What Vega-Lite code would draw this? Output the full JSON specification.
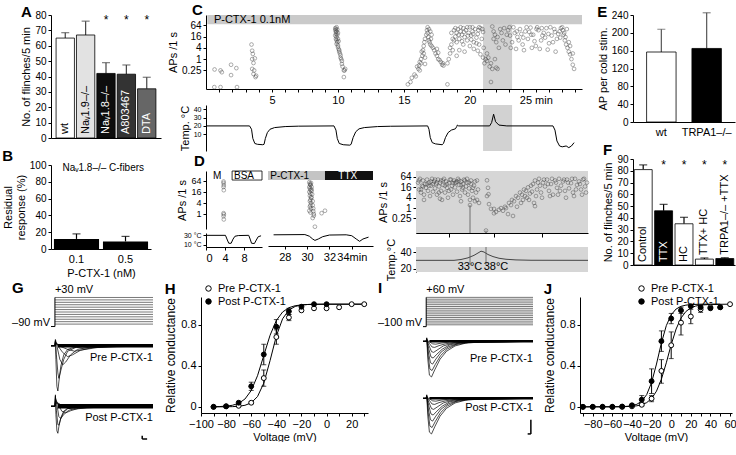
{
 "$schema": "https://vega.github.io/schema/vega-lite/v6.json",
 "padding": {"left": 2, "top": 2, "right": 2, "bottom": 0},
 "background": "white",
 "config": {
  "font": "Liberation Sans",
  "view": {"stroke": null},
  "axis": {"grid": false, "domainColor": "#000", "tickColor": "#000", "labelColor": "#000", "titleColor": "#000", "labelFontSize": 10, "titleFontSize": 11, "titleFontWeight": "normal", "tickSize": 3, "labelPadding": 2, "titlePadding": 3, "labelOverlap": false},
  "title": {"fontSize": 15, "fontWeight": "bold", "anchor": "start", "frame": "bounds", "color": "#000"}
 },
 "resolve": {"scale": {"fill": "independent"}},
 "datasets": {
  "aBars": [
   {"g": "wt", "v": 65, "hi": 68.5, "lab": "wt", "sig": false},
   {"g": "Nav19", "v": 67, "hi": 76, "lab": "Naᵥ1.9–/–", "sig": false},
   {"g": "Nav18", "v": 42, "hi": 49, "lab": "Naᵥ1.8–/–", "sig": true},
   {"g": "A803467", "v": 41.5, "hi": 47.5, "lab": "A803467", "sig": true},
   {"g": "DTA", "v": 32, "hi": 39.5, "lab": "DTA", "sig": true}
  ],
  "bBars": [{"c": "0.1", "v": 12, "hi": 18}, {"c": "0.5", "v": 9, "hi": 15}],
  "eBars": [{"g": "wt", "v": 157, "hi": 208}, {"g": "TRPA1–/–", "v": 165, "hi": 245}],
  "fBars": [
   {"g": "Control", "v": 81, "hi": 85, "sig": false},
   {"g": "TTX", "v": 46, "hi": 51.5, "sig": true},
   {"g": "HC", "v": 35, "hi": 40.5, "sig": true},
   {"g": "TTX+ HC", "v": 5, "hi": 6, "sig": true},
   {"g": "TRPA1–/– +TTX", "v": 5.5, "hi": 6.2, "sig": true}
  ],
  "cPts": [
   {"t":0.63,"a":0.032},{"t":0.65,"a":0.28},{"t":1.1,"a":0.032},{"t":1.1,"a":0.25},{"t":1.2,"a":0.2},{"t":1.9,"a":0.5},{"t":1.9,"a":0.14},{"t":2.3,"a":0.33},{"t":2.35,"a":0.032},{"t":3.45,"a":6},{"t":3.5,"a":2.8},{"t":3.55,"a":1.9},{"t":3.5,"a":1.0},{"t":3.6,"a":0.62},{"t":3.7,"a":1.1},{"t":3.65,"a":0.25},{"t":3.6,"a":0.16},{"t":3.8,"a":0.13},{"t":3.75,"a":0.11},{"t":3.5,"a":0.3},
   {"t":9.8,"a":45},{"t":9.8,"a":35},{"t":9.85,"a":28},{"t":9.85,"a":22},{"t":9.8,"a":18},{"t":9.9,"a":15},{"t":9.85,"a":12},{"t":9.9,"a":10},{"t":9.95,"a":8},{"t":9.9,"a":6.5},{"t":10.0,"a":5.5},{"t":10.0,"a":4.5},{"t":10.05,"a":3.5},{"t":10.1,"a":3},{"t":10.1,"a":2.5},{"t":10.15,"a":2},{"t":10.2,"a":1.6},{"t":10.2,"a":1.2},{"t":10.25,"a":1.0},{"t":10.3,"a":0.8},{"t":10.3,"a":0.55},{"t":10.35,"a":0.4},{"t":10.5,"a":0.25},{"t":10.45,"a":0.25},{"t":10.55,"a":0.3},{"t":10.45,"a":0.11},{"t":9.9,"a":30},{"t":9.95,"a":20},{"t":10.0,"a":12},{"t":10.05,"a":9},{"t":10.0,"a":25},{"t":9.85,"a":40},{"t":9.9,"a":50},{"t":9.95,"a":38},
   {"t":15.3,"a":0.045},{"t":15.5,"a":0.06},{"t":15.6,"a":0.1},{"t":15.8,"a":0.15},{"t":15.9,"a":0.12},{"t":16.0,"a":0.4},{"t":16.1,"a":0.3},{"t":16.15,"a":0.45},{"t":16.2,"a":0.25},{"t":16.3,"a":0.6},{"t":16.3,"a":1.0},{"t":16.4,"a":1.5},{"t":16.35,"a":2.5},{"t":16.45,"a":3},{"t":16.5,"a":2},{"t":16.5,"a":5},{"t":16.55,"a":8},{"t":16.6,"a":1.2},{"t":16.6,"a":12},{"t":16.7,"a":20},{"t":16.75,"a":35},{"t":16.8,"a":50},{"t":16.8,"a":25},{"t":16.85,"a":15},{"t":16.9,"a":10},{"t":16.95,"a":8},{"t":17.0,"a":6},{"t":17.05,"a":12},{"t":17.1,"a":5},{"t":17.2,"a":4},{"t":17.3,"a":3},{"t":17.4,"a":2},{"t":17.5,"a":1.5},{"t":17.6,"a":1.0},{"t":17.7,"a":0.9},{"t":17.8,"a":0.7},{"t":17.9,"a":0.5},{"t":17.95,"a":0.6},{"t":17.5,"a":3.5},{"t":17.6,"a":2.2},{"t":18.0,"a":0.45},{"t":18.3,"a":0.045},{"t":16.6,"a":0.55},{"t":16.2,"a":0.7},{"t":16.9,"a":40},{"t":17.0,"a":30},{"t":17.1,"a":20},
   {"t":18.3,"a":0.6},{"t":18.4,"a":1.0},{"t":18.5,"a":2},{"t":18.5,"a":4},{"t":18.6,"a":6},{"t":18.7,"a":3},{"t":18.8,"a":10},{"t":18.9,"a":16},{"t":19.0,"a":25},{"t":19.1,"a":40},{"t":19.0,"a":8},{"t":19.2,"a":12},{"t":19.3,"a":30},{"t":19.4,"a":20},{"t":19.5,"a":45},{"t":19.5,"a":6},{"t":19.6,"a":15},{"t":19.7,"a":35},{"t":19.8,"a":10},{"t":19.9,"a":25},{"t":20.0,"a":50},{"t":20.0,"a":5},{"t":20.1,"a":18},{"t":20.2,"a":30},{"t":20.3,"a":8},{"t":20.4,"a":40},{"t":20.5,"a":14},{"t":20.6,"a":22},{"t":20.7,"a":6},{"t":20.8,"a":45},{"t":20.9,"a":12},{"t":21.0,"a":28},{"t":21.05,"a":4},{"t":19.2,"a":3},{"t":19.6,"a":2.5},{"t":20.3,"a":3.5},{"t":20.6,"a":2.8},{"t":19.0,"a":1.5},{"t":20.8,"a":1.8},{"t":21.0,"a":1.2},{"t":18.7,"a":12},{"t":19.4,"a":9},{"t":20.1,"a":11},{"t":20.5,"a":7},{"t":19.8,"a":50},{"t":20.2,"a":50},{"t":20.7,"a":50},{"t":19.3,"a":50},{"t":18.9,"a":45},{"t":19.15,"a":20},{"t":19.55,"a":28},{"t":19.85,"a":18},{"t":20.25,"a":22},{"t":20.65,"a":35},{"t":20.95,"a":40},{"t":18.6,"a":25},{"t":18.8,"a":35},
   {"t":21.1,"a":0.6},{"t":21.2,"a":1.0},{"t":21.3,"a":2},{"t":21.3,"a":0.8},{"t":21.4,"a":1.2},{"t":21.5,"a":0.4},{"t":21.6,"a":0.6},{"t":21.7,"a":0.3},{"t":21.6,"a":0.06},{"t":21.7,"a":55},{"t":21.8,"a":30},{"t":21.8,"a":12},{"t":21.9,"a":20},{"t":22.0,"a":8},{"t":22.1,"a":15},{"t":22.2,"a":4},{"t":22.3,"a":40},{"t":22.0,"a":0.35},{"t":22.1,"a":0.3},{"t":21.9,"a":1.0},{"t":22.4,"a":25},{"t":22.5,"a":10},{"t":22.6,"a":45},{"t":22.7,"a":6},{"t":22.8,"a":20},{"t":22.9,"a":35},
   {"t":23.0,"a":50},{"t":23.2,"a":8},{"t":23.4,"a":25},{"t":23.6,"a":15},{"t":23.8,"a":40},{"t":24.0,"a":6},{"t":24.2,"a":30},{"t":24.4,"a":12},{"t":24.6,"a":48},{"t":24.8,"a":20},{"t":25.0,"a":5},{"t":25.2,"a":35},{"t":25.4,"a":10},{"t":25.6,"a":25},{"t":25.8,"a":45},{"t":26.0,"a":7},{"t":26.2,"a":18},{"t":26.4,"a":40},{"t":26.6,"a":12},{"t":26.8,"a":30},{"t":27.0,"a":50},{"t":27.1,"a":20},{"t":27.2,"a":10},{"t":27.3,"a":6},{"t":27.4,"a":4},{"t":27.5,"a":2.5},{"t":27.6,"a":1.8},{"t":27.7,"a":1.0},{"t":27.8,"a":0.5},{"t":27.9,"a":0.3},{"t":23.1,"a":4},{"t":23.5,"a":3.5},{"t":24.1,"a":3},{"t":24.7,"a":4},{"t":25.3,"a":3.5},{"t":25.9,"a":3.2},{"t":26.5,"a":2.5},{"t":23.3,"a":50},{"t":24.3,"a":50},{"t":25.1,"a":50},{"t":26.1,"a":50},{"t":26.9,"a":45},{"t":23.7,"a":10},{"t":24.9,"a":9},{"t":25.7,"a":14},{"t":26.3,"a":8},{"t":27.05,"a":35},{"t":27.15,"a":25},{"t":27.25,"a":15},{"t":27.5,"a":8},{"t":27.6,"a":5},{"t":27.8,"a":2},{"t":23.9,"a":22},{"t":24.5,"a":28},{"t":25.5,"a":18},{"t":26.7,"a":22},{"t":23.05,"a":18},{"t":23.55,"a":30},{"t":24.05,"a":14},{"t":24.65,"a":20},{"t":25.05,"a":40},{"t":25.45,"a":45},{"t":25.95,"a":22},{"t":26.45,"a":28},{"t":26.85,"a":14},{"t":27.35,"a":40}
  ],
  "cTemp": [
   {"t":0,"T":20},{"t":3.3,"T":20},{"t":3.45,"T":16},{"t":3.55,"T":5},{"t":3.7,"T":-1},{"t":3.9,"T":-2},{"t":4.3,"T":-2.5},{"t":4.4,"T":-2},{"t":4.5,"T":5},{"t":4.65,"T":12},{"t":4.85,"T":16},{"t":5.2,"T":18},{"t":6,"T":19.2},{"t":7,"T":19.7},{"t":9.7,"T":20},{"t":9.85,"T":15},{"t":9.95,"T":5},{"t":10.1,"T":-1},{"t":10.4,"T":-2.5},{"t":10.9,"T":-3},{"t":11.0,"T":-2},{"t":11.15,"T":6},{"t":11.35,"T":13},{"t":11.6,"T":16.5},{"t":12,"T":18},{"t":13,"T":19.2},{"t":14,"T":19.6},{"t":16.8,"T":20},{"t":16.9,"T":16},{"t":17.0,"T":6},{"t":17.15,"T":0},{"t":17.4,"T":-1.5},{"t":17.9,"T":-2.5},{"t":18.0,"T":-1},{"t":18.15,"T":6},{"t":18.35,"T":12},{"t":18.6,"T":15},{"t":18.9,"T":16.5},{"t":19.0,"T":19},{"t":19.05,"T":21},{"t":19.15,"T":20},{"t":21.5,"T":20},{"t":21.65,"T":24},{"t":21.8,"T":34},{"t":21.95,"T":25},{"t":22.2,"T":21},{"t":22.8,"T":20},{"t":26.3,"T":20},{"t":26.45,"T":15},{"t":26.6,"T":2},{"t":26.8,"T":-4},{"t":27.0,"T":-5},{"t":27.3,"T":-4},{"t":27.5,"T":-6},{"t":27.7,"T":-4},{"t":27.9,"T":0}
  ],
  "d1Pts": [{"t":3.7,"a":60},{"t":3.7,"a":50},{"t":3.75,"a":38},{"t":3.7,"a":30},{"t":3.75,"a":20},{"t":3.7,"a":1.1},{"t":3.75,"a":0.95},{"t":3.7,"a":0.75},{"t":3.75,"a":0.5}],
  "d2Pts": [{"t":30.2,"a":55},{"t":30.25,"a":45},{"t":30.3,"a":38},{"t":30.2,"a":30},{"t":30.25,"a":25},{"t":30.3,"a":20},{"t":30.2,"a":16},{"t":30.3,"a":13},{"t":30.25,"a":10},{"t":30.35,"a":8},{"t":30.3,"a":6},{"t":30.25,"a":5},{"t":30.35,"a":4},{"t":30.3,"a":3},{"t":30.25,"a":2.5},{"t":30.35,"a":2},{"t":30.2,"a":1.5},{"t":30.3,"a":1.2},{"t":30.4,"a":30},{"t":30.4,"a":18},{"t":30.45,"a":12},{"t":30.4,"a":8},{"t":30.5,"a":5},{"t":30.5,"a":3},{"t":30.55,"a":2},{"t":30.55,"a":1.4},{"t":30.6,"a":1.0},{"t":30.6,"a":0.8},{"t":30.5,"a":0.6},{"t":30.7,"a":0.2},{"t":31.3,"a":1.1},{"t":31.6,"a":1.5},{"t":30.35,"a":50},{"t":30.3,"a":40},{"t":30.4,"a":22}],
  "d1Temp": [{"t":0,"T":30},{"t":4.1,"T":30},{"t":4.5,"T":20},{"t":4.8,"T":13},{"t":5.3,"T":13},{"t":5.7,"T":22},{"t":6.1,"T":28},{"t":6.8,"T":29.5},{"t":9.0,"T":30},{"t":9.3,"T":22},{"t":9.6,"T":13},{"t":10.2,"T":12.5},{"t":10.6,"T":20},{"t":11.0,"T":27},{"t":11.6,"T":29}],
  "d2Temp": [{"t":27,"T":29},{"t":29.8,"T":29.5},{"t":30.2,"T":26},{"t":30.5,"T":20},{"t":30.7,"T":17},{"t":31.0,"T":20},{"t":31.4,"T":25},{"t":32,"T":28.5},{"t":33.5,"T":29},{"t":34.0,"T":27},{"t":34.4,"T":20},{"t":34.7,"T":15},{"t":35.0,"T":20},{"t":35.5,"T":24}],
  "drPts": [
   {"x":2,"a":30},{"x":3,"a":12},{"x":4,"a":50},{"x":5,"a":8},{"x":6,"a":20},{"x":7,"a":40},{"x":8,"a":6},{"x":9,"a":25},{"x":10,"a":15},{"x":11,"a":45},{"x":12,"a":10},{"x":13,"a":30},{"x":14,"a":5},{"x":15,"a":20},{"x":16,"a":50},{"x":17,"a":9},{"x":18,"a":35},{"x":19,"a":14},{"x":20,"a":25},{"x":21,"a":6},{"x":22,"a":45},{"x":23,"a":18},{"x":24,"a":30},{"x":25,"a":10},{"x":26,"a":3},{"x":27,"a":22},{"x":28,"a":50},{"x":29,"a":8},{"x":30,"a":35},{"x":31,"a":15},{"x":32,"a":4},{"x":33,"a":28},{"x":34,"a":45},{"x":35,"a":12},{"x":36,"a":20},{"x":37,"a":6},{"x":38,"a":40},{"x":39,"a":16},{"x":40,"a":30},{"x":41,"a":9},{"x":42,"a":50},{"x":43,"a":22},{"x":44,"a":5},{"x":45,"a":35},{"x":46,"a":12},{"x":47,"a":25},{"x":48,"a":45},{"x":49,"a":8},{"x":50,"a":18},{"x":51,"a":30},{"x":52,"a":6},{"x":53,"a":14},{"x":54,"a":3},{"x":55,"a":40},{"x":56,"a":10},{"x":57,"a":4},{"x":58,"a":20},{"x":59,"a":2.5},{"x":60,"a":8},{"x":61,"a":3},{"x":62,"a":12},{"x":63,"a":2},{"x":24,"a":3.5},{"x":8,"a":3},{"x":45,"a":2.5},
   {"x":3,"a":40},{"x":7,"a":18},{"x":11,"a":25},{"x":15,"a":35},{"x":19,"a":45},{"x":23,"a":8},{"x":27,"a":40},{"x":31,"a":25},{"x":35,"a":45},{"x":39,"a":30},{"x":43,"a":40},{"x":47,"a":15},{"x":51,"a":50},{"x":55,"a":25},{"x":59,"a":35},{"x":5,"a":12},{"x":13,"a":20},{"x":17,"a":25},{"x":21,"a":30},{"x":25,"a":40},{"x":29,"a":20},{"x":33,"a":10},{"x":37,"a":28},{"x":41,"a":35},{"x":45,"a":22},{"x":49,"a":40},{"x":53,"a":30},{"x":57,"a":15},{"x":61,"a":40},
   {"x":71,"a":41},{"x":72,"a":15},{"x":72.5,"a":6.4},{"x":71,"a":5},{"x":73,"a":1.7},{"x":75,"a":0.9},{"x":78,"a":0.9},{"x":80,"a":0.6},{"x":78,"a":0.5},{"x":83,"a":0.8},{"x":85,"a":1.0},{"x":87,"a":0.7},{"x":89,"a":1.2},{"x":90,"a":1.0},{"x":92,"a":0.45},{"x":93,"a":2},{"x":95,"a":1.5},{"x":96,"a":3},{"x":97,"a":0.35},{"x":98,"a":2.5},{"x":100,"a":5},{"x":101,"a":1.2},{"x":102,"a":4},{"x":104,"a":8},{"x":105,"a":2},{"x":106,"a":6},{"x":107,"a":3},{"x":108,"a":12},{"x":109,"a":5},{"x":110,"a":10},{"x":111,"a":4},{"x":112,"a":16},{"x":113,"a":3},{"x":114,"a":7},{"x":115,"a":20},{"x":116,"a":9},{"x":118,"a":2},{"x":120,"a":5},{"x":122,"a":30},{"x":119,"a":1.3},
   {"x":117,"a":25},{"x":119,"a":40},{"x":121,"a":12},{"x":123,"a":50},{"x":125,"a":8},{"x":127,"a":30},{"x":129,"a":18},{"x":131,"a":45},{"x":133,"a":10},{"x":135,"a":25},{"x":137,"a":6},{"x":139,"a":40},{"x":141,"a":15},{"x":143,"a":50},{"x":145,"a":20},{"x":147,"a":35},{"x":149,"a":10},{"x":151,"a":45},{"x":153,"a":14},{"x":155,"a":28},{"x":157,"a":8},{"x":159,"a":50},{"x":161,"a":22},{"x":163,"a":35},{"x":165,"a":12},{"x":167,"a":45},{"x":169,"a":18},{"x":171,"a":30},{"x":124,"a":20},{"x":128,"a":45},{"x":132,"a":25},{"x":136,"a":50},{"x":140,"a":30},{"x":144,"a":10},{"x":148,"a":45},{"x":152,"a":30},{"x":156,"a":50},{"x":160,"a":12},{"x":164,"a":25},{"x":168,"a":50},{"x":170,"a":8},{"x":126,"a":4},{"x":134,"a":5},{"x":142,"a":6},{"x":150,"a":4},{"x":158,"a":5},{"x":166,"a":6}
  ],
  "drTemp": [{"x":0,"T":30},{"x":38,"T":30},{"x":45,"T":31},{"x":52,"T":33},{"x":58,"T":36},{"x":63,"T":39.5},{"x":65,"T":41},{"x":68,"T":40},{"x":72,"T":37},{"x":77,"T":34.5},{"x":83,"T":32.5},{"x":90,"T":31.3},{"x":100,"T":30.5},{"x":115,"T":30.1},{"x":172,"T":30}],
  "drMarks": [{"x":54,"a":1.5,"lab":"33°C","lx":54},{"x":70,"a":0.05,"lab":"38°C","lx":80}],
  "gLv": [{"l":-80},{"l":-70},{"l":-60},{"l":-50},{"l":-40},{"l":-30},{"l":-20},{"l":-10},{"l":0},{"l":10},{"l":20},{"l":30}],
  "iLv": [{"l":-90},{"l":-80},{"l":-70},{"l":-60},{"l":-50},{"l":-40},{"l":-30},{"l":-20},{"l":-10},{"l":0},{"l":10},{"l":20},{"l":30},{"l":40},{"l":50},{"l":60}],
  "gPre": [
   {"k":"p1","t":-4,"i":0},{"k":"p1","t":0,"i":0},{"k":"p1","t":0.5,"i":0.1},{"k":"p1","t":1,"i":-0.3},{"k":"p1","t":2,"i":-0.9},{"k":"p1","t":3,"i":-1.0},{"k":"p1","t":4,"i":-0.8},{"k":"p1","t":6,"i":-0.45},{"k":"p1","t":9,"i":-0.2},{"k":"p1","t":13,"i":-0.08},{"k":"p1","t":22,"i":-0.02},{"k":"p1","t":100,"i":0},
   {"k":"p2","t":-4,"i":0},{"k":"p2","t":0,"i":0},{"k":"p2","t":0.5,"i":0.12},{"k":"p2","t":1.5,"i":-0.2},{"k":"p2","t":3,"i":-0.6},{"k":"p2","t":4,"i":-0.72},{"k":"p2","t":6,"i":-0.55},{"k":"p2","t":9,"i":-0.3},{"k":"p2","t":13,"i":-0.12},{"k":"p2","t":22,"i":-0.03},{"k":"p2","t":100,"i":0},
   {"k":"p3","t":-4,"i":0},{"k":"p3","t":0,"i":0},{"k":"p3","t":0.5,"i":0.14},{"k":"p3","t":2,"i":0},{"k":"p3","t":5,"i":-0.3},{"k":"p3","t":8,"i":-0.42},{"k":"p3","t":11,"i":-0.36},{"k":"p3","t":16,"i":-0.2},{"k":"p3","t":23,"i":-0.08},{"k":"p3","t":38,"i":-0.02},{"k":"p3","t":100,"i":0},
   {"k":"p4","t":-4,"i":0},{"k":"p4","t":0,"i":0},{"k":"p4","t":0.5,"i":0.1},{"k":"p4","t":3,"i":0},{"k":"p4","t":8,"i":-0.15},{"k":"p4","t":13,"i":-0.24},{"k":"p4","t":18,"i":-0.2},{"k":"p4","t":26,"i":-0.1},{"k":"p4","t":38,"i":-0.04},{"k":"p4","t":58,"i":-0.01},{"k":"p4","t":100,"i":0},
   {"k":"p5","t":-4,"i":0},{"k":"p5","t":0,"i":0},{"k":"p5","t":0.5,"i":0.08},{"k":"p5","t":4,"i":0},{"k":"p5","t":13,"i":-0.08},{"k":"p5","t":20,"i":-0.12},{"k":"p5","t":28,"i":-0.09},{"k":"p5","t":43,"i":-0.04},{"k":"p5","t":68,"i":-0.01},{"k":"p5","t":100,"i":0},
   {"k":"p6","t":-4,"i":0},{"k":"p6","t":0,"i":0},{"k":"p6","t":0.5,"i":0.05},{"k":"p6","t":8,"i":0},{"k":"p6","t":28,"i":-0.05},{"k":"p6","t":48,"i":-0.03},{"k":"p6","t":100,"i":0}
  ],
  "gPost": [
   {"k":"q1","t":-4,"i":0},{"k":"q1","t":0,"i":0},{"k":"q1","t":0.5,"i":0.28},{"k":"q1","t":1,"i":-0.2},{"k":"q1","t":2,"i":-0.6},{"k":"q1","t":3,"i":-0.66},{"k":"q1","t":4,"i":-0.5},{"k":"q1","t":6,"i":-0.28},{"k":"q1","t":9,"i":-0.12},{"k":"q1","t":13,"i":-0.05},{"k":"q1","t":22,"i":-0.015},{"k":"q1","t":100,"i":0},
   {"k":"q2","t":-4,"i":0},{"k":"q2","t":0,"i":0},{"k":"q2","t":0.5,"i":0.25},{"k":"q2","t":1.5,"i":-0.1},{"k":"q2","t":3,"i":-0.45},{"k":"q2","t":4,"i":-0.46},{"k":"q2","t":6,"i":-0.3},{"k":"q2","t":9,"i":-0.15},{"k":"q2","t":13,"i":-0.06},{"k":"q2","t":22,"i":-0.02},{"k":"q2","t":100,"i":0},
   {"k":"q3","t":-4,"i":0},{"k":"q3","t":0,"i":0},{"k":"q3","t":0.5,"i":0.22},{"k":"q3","t":2,"i":0.05},{"k":"q3","t":4,"i":-0.25},{"k":"q3","t":6,"i":-0.3},{"k":"q3","t":9,"i":-0.2},{"k":"q3","t":14,"i":-0.1},{"k":"q3","t":22,"i":-0.04},{"k":"q3","t":36,"i":-0.01},{"k":"q3","t":100,"i":0},
   {"k":"q4","t":-4,"i":0},{"k":"q4","t":0,"i":0},{"k":"q4","t":0.5,"i":0.18},{"k":"q4","t":3,"i":0.06},{"k":"q4","t":7,"i":-0.12},{"k":"q4","t":11,"i":-0.16},{"k":"q4","t":16,"i":-0.11},{"k":"q4","t":24,"i":-0.05},{"k":"q4","t":40,"i":-0.015},{"k":"q4","t":100,"i":0},
   {"k":"q5","t":-4,"i":0},{"k":"q5","t":0,"i":0},{"k":"q5","t":0.5,"i":0.12},{"k":"q5","t":5,"i":0.05},{"k":"q5","t":13,"i":-0.05},{"k":"q5","t":20,"i":-0.07},{"k":"q5","t":32,"i":-0.04},{"k":"q5","t":55,"i":-0.01},{"k":"q5","t":100,"i":0},
   {"k":"q6","t":-4,"i":0},{"k":"q6","t":0,"i":0},{"k":"q6","t":0.5,"i":0.08},{"k":"q6","t":6,"i":0.04},{"k":"q6","t":15,"i":0.02},{"k":"q6","t":30,"i":0},{"k":"q6","t":100,"i":0}
  ],
  "iTr": [
   {"k":"r1","t":-3,"i":0},{"k":"r1","t":0,"i":0},{"k":"r1","t":0.5,"i":0.1},{"k":"r1","t":1.5,"i":-0.5},{"k":"r1","t":3,"i":-0.95},{"k":"r1","t":5,"i":-1.0},{"k":"r1","t":8,"i":-0.8},{"k":"r1","t":13,"i":-0.5},{"k":"r1","t":19,"i":-0.28},{"k":"r1","t":27,"i":-0.13},{"k":"r1","t":37,"i":-0.05},{"k":"r1","t":55,"i":-0.01},{"k":"r1","t":100,"i":0},
   {"k":"r2","t":-3,"i":0},{"k":"r2","t":0,"i":0},{"k":"r2","t":0.5,"i":0.08},{"k":"r2","t":1.8,"i":-0.4},{"k":"r2","t":3.5,"i":-0.78},{"k":"r2","t":5.5,"i":-0.82},{"k":"r2","t":8.5,"i":-0.65},{"k":"r2","t":13.5,"i":-0.4},{"k":"r2","t":20,"i":-0.21},{"k":"r2","t":28,"i":-0.09},{"k":"r2","t":40,"i":-0.03},{"k":"r2","t":100,"i":0},
   {"k":"r3","t":-3,"i":0},{"k":"r3","t":0,"i":0},{"k":"r3","t":0.5,"i":0.07},{"k":"r3","t":2,"i":-0.3},{"k":"r3","t":4,"i":-0.6},{"k":"r3","t":6,"i":-0.64},{"k":"r3","t":9,"i":-0.5},{"k":"r3","t":14,"i":-0.3},{"k":"r3","t":21,"i":-0.15},{"k":"r3","t":30,"i":-0.06},{"k":"r3","t":45,"i":-0.015},{"k":"r3","t":100,"i":0},
   {"k":"r4","t":-3,"i":0},{"k":"r4","t":0,"i":0},{"k":"r4","t":0.5,"i":0.06},{"k":"r4","t":2.3,"i":-0.2},{"k":"r4","t":4.5,"i":-0.44},{"k":"r4","t":6.5,"i":-0.47},{"k":"r4","t":10,"i":-0.36},{"k":"r4","t":15,"i":-0.22},{"k":"r4","t":22,"i":-0.1},{"k":"r4","t":32,"i":-0.04},{"k":"r4","t":100,"i":0},
   {"k":"r5","t":-3,"i":0},{"k":"r5","t":0,"i":0},{"k":"r5","t":0.5,"i":0.05},{"k":"r5","t":2.6,"i":-0.12},{"k":"r5","t":5,"i":-0.29},{"k":"r5","t":7,"i":-0.31},{"k":"r5","t":11,"i":-0.23},{"k":"r5","t":16,"i":-0.13},{"k":"r5","t":24,"i":-0.06},{"k":"r5","t":35,"i":-0.02},{"k":"r5","t":100,"i":0},
   {"k":"r6","t":-3,"i":0},{"k":"r6","t":0,"i":0},{"k":"r6","t":0.5,"i":0.04},{"k":"r6","t":3,"i":-0.06},{"k":"r6","t":5.5,"i":-0.16},{"k":"r6","t":8,"i":-0.17},{"k":"r6","t":12,"i":-0.12},{"k":"r6","t":18,"i":-0.07},{"k":"r6","t":27,"i":-0.03},{"k":"r6","t":100,"i":0},
   {"k":"r7","t":-3,"i":0},{"k":"r7","t":0,"i":0},{"k":"r7","t":0.5,"i":0.03},{"k":"r7","t":3.5,"i":-0.02},{"k":"r7","t":6,"i":-0.07},{"k":"r7","t":9,"i":-0.08},{"k":"r7","t":14,"i":-0.05},{"k":"r7","t":22,"i":-0.02},{"k":"r7","t":100,"i":0}
  ],
  "hPts": [
   {"V":-90,"g":0,"c":"Pre P-CTX-1"},{"V":-80,"g":0.005,"c":"Pre P-CTX-1"},{"V":-70,"g":0.01,"c":"Pre P-CTX-1"},{"V":-60,"g":0.04,"lo":0.03,"hi":0.05,"c":"Pre P-CTX-1"},{"V":-50,"g":0.28,"lo":0.2,"hi":0.36,"c":"Pre P-CTX-1"},{"V":-40,"g":0.68,"lo":0.61,"hi":0.75,"c":"Pre P-CTX-1"},{"V":-30,"g":0.87,"lo":0.84,"hi":0.9,"c":"Pre P-CTX-1"},{"V":-20,"g":0.94,"c":"Pre P-CTX-1"},{"V":-10,"g":0.96,"c":"Pre P-CTX-1"},{"V":0,"g":0.96,"c":"Pre P-CTX-1"},{"V":10,"g":0.97,"c":"Pre P-CTX-1"},{"V":20,"g":1.0,"c":"Pre P-CTX-1"},{"V":30,"g":1.0,"c":"Pre P-CTX-1"},
   {"V":-90,"g":0,"c":"Post P-CTX-1"},{"V":-80,"g":0.005,"c":"Post P-CTX-1"},{"V":-70,"g":0.04,"c":"Post P-CTX-1"},{"V":-60,"g":0.2,"lo":0.16,"hi":0.24,"c":"Post P-CTX-1"},{"V":-50,"g":0.51,"lo":0.41,"hi":0.61,"c":"Post P-CTX-1"},{"V":-40,"g":0.78,"lo":0.71,"hi":0.85,"c":"Post P-CTX-1"},{"V":-30,"g":0.93,"lo":0.9,"hi":0.96,"c":"Post P-CTX-1"},{"V":-20,"g":0.975,"c":"Post P-CTX-1"},{"V":-10,"g":1.0,"c":"Post P-CTX-1"},{"V":0,"g":1.0,"c":"Post P-CTX-1"}
  ],
  "hFit": [
   {"V":-90,"g":0.0001,"c":"pre"},{"V":-80,"g":0.0007,"c":"pre"},{"V":-75,"g":0.002,"c":"pre"},{"V":-70,"g":0.0055,"c":"pre"},{"V":-65,"g":0.015,"c":"pre"},{"V":-60,"g":0.039,"c":"pre"},{"V":-55,"g":0.1,"c":"pre"},{"V":-50,"g":0.231,"c":"pre"},{"V":-45,"g":0.45,"c":"pre"},{"V":-40,"g":0.69,"c":"pre"},{"V":-35,"g":0.858,"c":"pre"},{"V":-30,"g":0.943,"c":"pre"},{"V":-25,"g":0.978,"c":"pre"},{"V":-20,"g":0.992,"c":"pre"},{"V":-15,"g":0.997,"c":"pre"},{"V":-10,"g":0.999,"c":"pre"},{"V":0,"g":1,"c":"pre"},{"V":30,"g":1,"c":"pre"},
   {"V":-90,"g":0.0013,"c":"post"},{"V":-85,"g":0.003,"c":"post"},{"V":-80,"g":0.0067,"c":"post"},{"V":-75,"g":0.0153,"c":"post"},{"V":-70,"g":0.034,"c":"post"},{"V":-65,"g":0.076,"c":"post"},{"V":-60,"g":0.159,"c":"post"},{"V":-55,"g":0.303,"c":"post"},{"V":-50,"g":0.5,"c":"post"},{"V":-45,"g":0.697,"c":"post"},{"V":-40,"g":0.841,"c":"post"},{"V":-35,"g":0.924,"c":"post"},{"V":-30,"g":0.966,"c":"post"},{"V":-25,"g":0.985,"c":"post"},{"V":-20,"g":0.993,"c":"post"},{"V":-15,"g":0.997,"c":"post"},{"V":-10,"g":0.999,"c":"post"},{"V":0,"g":1,"c":"post"},{"V":30,"g":1,"c":"post"}
  ],
  "jPts": [
   {"V":-90,"g":0,"c":"Pre P-CTX-1"},{"V":-80,"g":0,"c":"Pre P-CTX-1"},{"V":-70,"g":0,"c":"Pre P-CTX-1"},{"V":-60,"g":0,"c":"Pre P-CTX-1"},{"V":-50,"g":0,"c":"Pre P-CTX-1"},{"V":-40,"g":0.005,"c":"Pre P-CTX-1"},{"V":-30,"g":0.02,"lo":0.01,"hi":0.035,"c":"Pre P-CTX-1"},{"V":-20,"g":0.08,"lo":0.05,"hi":0.11,"c":"Pre P-CTX-1"},{"V":-10,"g":0.35,"lo":0.23,"hi":0.46,"c":"Pre P-CTX-1"},{"V":0,"g":0.6,"lo":0.47,"hi":0.73,"c":"Pre P-CTX-1"},{"V":10,"g":0.82,"lo":0.7,"hi":0.93,"c":"Pre P-CTX-1"},{"V":20,"g":0.88,"lo":0.81,"hi":0.95,"c":"Pre P-CTX-1"},{"V":30,"g":0.95,"lo":0.92,"hi":0.98,"c":"Pre P-CTX-1"},{"V":40,"g":0.97,"c":"Pre P-CTX-1"},{"V":50,"g":0.97,"c":"Pre P-CTX-1"},{"V":60,"g":1.0,"c":"Pre P-CTX-1"},
   {"V":-90,"g":0,"c":"Post P-CTX-1"},{"V":-80,"g":0,"c":"Post P-CTX-1"},{"V":-70,"g":0,"c":"Post P-CTX-1"},{"V":-60,"g":0,"c":"Post P-CTX-1"},{"V":-50,"g":0.003,"c":"Post P-CTX-1"},{"V":-40,"g":0.015,"lo":0.005,"hi":0.025,"c":"Post P-CTX-1"},{"V":-30,"g":0.07,"lo":0.04,"hi":0.11,"c":"Post P-CTX-1"},{"V":-20,"g":0.25,"lo":0.13,"hi":0.37,"c":"Post P-CTX-1"},{"V":-10,"g":0.64,"lo":0.54,"hi":0.74,"c":"Post P-CTX-1"},{"V":0,"g":0.86,"lo":0.81,"hi":0.91,"c":"Post P-CTX-1"},{"V":10,"g":0.94,"lo":0.91,"hi":0.97,"c":"Post P-CTX-1"},{"V":20,"g":0.98,"c":"Post P-CTX-1"},{"V":30,"g":0.97,"c":"Post P-CTX-1"},{"V":40,"g":0.96,"c":"Post P-CTX-1"},{"V":50,"g":0.97,"c":"Post P-CTX-1"}
  ],
  "jFit": [
   {"V":-90,"g":0,"c":"pre"},{"V":-50,"g":0.001,"c":"pre"},{"V":-40,"g":0.005,"c":"pre"},{"V":-35,"g":0.0102,"c":"pre"},{"V":-30,"g":0.0207,"c":"pre"},{"V":-25,"g":0.041,"c":"pre"},{"V":-20,"g":0.081,"c":"pre"},{"V":-15,"g":0.153,"c":"pre"},{"V":-10,"g":0.269,"c":"pre"},{"V":-5,"g":0.429,"c":"pre"},{"V":0,"g":0.606,"c":"pre"},{"V":5,"g":0.758,"c":"pre"},{"V":10,"g":0.865,"c":"pre"},{"V":15,"g":0.929,"c":"pre"},{"V":20,"g":0.964,"c":"pre"},{"V":25,"g":0.982,"c":"pre"},{"V":30,"g":0.991,"c":"pre"},{"V":40,"g":0.998,"c":"pre"},{"V":60,"g":1,"c":"pre"},
   {"V":-90,"g":0,"c":"post"},{"V":-60,"g":0.0004,"c":"post"},{"V":-50,"g":0.002,"c":"post"},{"V":-45,"g":0.005,"c":"post"},{"V":-40,"g":0.011,"c":"post"},{"V":-35,"g":0.025,"c":"post"},{"V":-30,"g":0.055,"c":"post"},{"V":-25,"g":0.119,"c":"post"},{"V":-20,"g":0.237,"c":"post"},{"V":-15,"g":0.417,"c":"post"},{"V":-10,"g":0.622,"c":"post"},{"V":-5,"g":0.791,"c":"post"},{"V":0,"g":0.897,"c":"post"},{"V":5,"g":0.953,"c":"post"},{"V":10,"g":0.979,"c":"post"},{"V":15,"g":0.991,"c":"post"},{"V":20,"g":0.996,"c":"post"},{"V":30,"g":1,"c":"post"},{"V":50,"g":1,"c":"post"}
  ]
 },
 "vconcat": [
  {
   "hconcat": [
    {
     "vconcat": [
      {
       "title": {"text": "A", "offset": -10},
       "width": 110, "height": 123,
       "data": {"name": "aBars"},
       "encoding": {"x": {"field": "g", "type": "nominal", "sort": null, "scale": {"domain": ["wt", "Nav19", "Nav18", "A803467", "DTA"], "paddingInner": 0.1, "paddingOuter": 0.25}, "axis": {"labels": false, "ticks": false, "title": null}}},
       "layer": [
        {"mark": {"type": "rule", "strokeWidth": 1.2, "color": "#444"}, "encoding": {"y": {"field": "v", "type": "quantitative", "scale": {"domain": [0, 80]}, "axis": {"values": [0,10,20,30,40,50,60,70,80], "labelOverlap": false, "title": "No. of flinches/5 min"}}, "y2": {"field": "hi"}}},
        {"mark": {"type": "tick", "orient": "horizontal", "size": 8, "thickness": 1.2, "color": "#444"}, "encoding": {"y": {"field": "hi", "type": "quantitative", "axis": {"values": [0,10,20,30,40,50,60,70,80], "labelOverlap": false, "title": "No. of flinches/5 min"}}}},
        {"mark": {"type": "bar", "stroke": "#000", "strokeWidth": 0.8}, "encoding": {"y": {"field": "v", "type": "quantitative", "axis": {"values": [0,10,20,30,40,50,60,70,80], "labelOverlap": false, "title": "No. of flinches/5 min"}}, "fill": {"condition": [{"test": "datum.g == 'Nav19'", "value": "#e2e2e2"}, {"test": "datum.g == 'Nav18'", "value": "#0d0d0d"}, {"test": "datum.g == 'A803467'", "value": "#333333"}, {"test": "datum.g == 'DTA'", "value": "#666666"}], "value": "#ffffff"}}},
        {"mark": {"type": "text", "angle": 270, "align": "left", "baseline": "middle", "fontSize": 11, "dx": 4}, "encoding": {"y": {"datum": 0, "axis": {"values": [0,10,20,30,40,50,60,70,80], "labelOverlap": false, "title": "No. of flinches/5 min"}}, "text": {"field": "lab"}, "color": {"condition": {"test": "datum.v < 50", "value": "white"}, "value": "black"}}},
        {"transform": [{"filter": "datum.sig"}], "mark": {"type": "text", "fontSize": 12, "baseline": "middle"}, "encoding": {"y": {"datum": 77, "axis": {"values": [0,10,20,30,40,50,60,70,80], "labelOverlap": false, "title": "No. of flinches/5 min"}}, "text": {"value": "*"}}}
       ]
      },
      {
       "title": {"text": "B", "offset": -4},
       "width": 100, "height": 84,
       "data": {"name": "bBars"},
       "encoding": {"x": {"field": "c", "type": "nominal", "sort": null, "scale": {"domain": ["0.1", "0.5"], "paddingInner": 0.08, "paddingOuter": 0.06}, "axis": {"labelAngle": 0, "ticks": false, "title": "P-CTX-1 (nM)", "labelFontSize": 11, "titleFontSize": 11, "labelPadding": 4}}},
       "layer": [
        {"mark": {"type": "rule", "strokeWidth": 1.2, "color": "#000"}, "encoding": {"y": {"field": "v", "type": "quantitative", "scale": {"domain": [0, 100]}, "axis": {"values": [0,20,40,60,80,100], "labelOverlap": false, "title": ["Residual", "response (%)"]}}, "y2": {"field": "hi"}}},
        {"mark": {"type": "tick", "orient": "horizontal", "size": 8, "thickness": 1.2, "color": "#000"}, "encoding": {"y": {"field": "hi", "type": "quantitative", "axis": {"values": [0,20,40,60,80,100], "labelOverlap": false, "title": ["Residual", "response (%)"]}}}},
        {"mark": {"type": "bar", "color": "#000"}, "encoding": {"y": {"field": "v", "type": "quantitative", "axis": {"values": [0,20,40,60,80,100], "labelOverlap": false, "title": ["Residual", "response (%)"]}}}},
        {"data": {"values": [{"c": "0.1", "s": "Naᵥ1.8–/–   C-fibers"}]}, "mark": {"type": "text", "align": "left", "baseline": "middle", "fontSize": 10, "dx": -14}, "encoding": {"y": {"datum": 96, "axis": {"values": [0,20,40,60,80,100], "labelOverlap": false, "title": ["Residual", "response (%)"]}}, "text": {"field": "s"}}}
       ]
      }
     ],
     "spacing": 6
    },
    {
     "vconcat": [
      {
       "vconcat": [
        {
         "title": {"text": "C", "frame": "group", "dx": -14, "offset": -4},
         "width": 376, "height": 74,
         "encoding": {"x": {"field": "t", "type": "quantitative", "scale": {"domain": [0, 28.5], "nice": false}, "axis": {"values": [1,2,3,4,5,6,7,8,9,10,11,12,13,14,15,16,17,18,19,20,21,22,23,24,25,26,27,28], "labelExpr": "datum.value % 5 == 0 ? (datum.value == 25 ? '25 min' : datum.label) : ''", "labelOverlap": false, "labelFlush": false, "title": null, "tickSize": 3, "labelFontSize": 11}}},
         "layer": [
          {"data": {"values": [{"t": 21.0, "t2": 23.2}]}, "mark": {"type": "rect", "color": "#d2d2d2"}, "encoding": {"x2": {"field": "t2"}, "y": {"datum": 0.0254}, "y2": {"datum": 226}}},
          {"data": {"values": [{"t": 0.1, "t2": 28.5}]}, "mark": {"type": "rect", "color": "#cacaca"}, "encoding": {"x2": {"field": "t2"}, "y": {"datum": 72}, "y2": {"datum": 226}}},
          {"data": {"values": [{"t": 0.6}]}, "mark": {"type": "text", "align": "left", "baseline": "middle", "fontSize": 11}, "encoding": {"y": {"datum": 128}, "text": {"value": "P-CTX-1   0.1nM"}}},
          {"data": {"name": "cPts"}, "mark": {"type": "point", "shape": "circle", "filled": false, "size": 14, "strokeWidth": 0.6, "color": "#3a3a3a"}, "encoding": {"y": {"field": "a", "type": "quantitative", "scale": {"type": "log", "base": 2, "domain": [0.0254, 226], "nice": false}, "axis": {"values": [0.25, 1, 4, 16, 64], "labelOverlap": false, "labelExpr": "datum.value < 1 ? '0.25' : datum.label", "title": "APs /1 s"}}}}
         ]
        },
        {
         "width": 376, "height": 46,
         "encoding": {"x": {"field": "t", "type": "quantitative", "scale": {"domain": [0, 28.5], "nice": false}, "axis": null}},
         "layer": [
          {"data": {"values": [{"t": 21.0, "t2": 23.2}]}, "mark": {"type": "rect", "color": "#d2d2d2"}, "encoding": {"x2": {"field": "t2"}, "y": {"datum": -10, "type": "quantitative", "scale": {"domain": [-10, 45], "nice": false}, "axis": {"values": [10, 20, 30, 40], "labelOverlap": false, "title": "Temp. °C", "labelFontSize": 7}}, "y2": {"datum": 45}}},
          {"data": {"name": "cTemp"}, "mark": {"type": "line", "color": "#000", "strokeWidth": 1}, "encoding": {"y": {"field": "T", "type": "quantitative", "axis": {"values": [10, 20, 30, 40], "labelOverlap": false, "title": "Temp. °C", "labelFontSize": 7}}}}
         ]
        }
       ],
       "spacing": 0
      },
      {
       "hconcat": [
        {
         "vconcat": [
          {
           "title": {"text": "D", "frame": "group", "dx": -12, "offset": 2},
           "width": 56, "height": 58,
           "encoding": {"x": {"field": "t", "type": "quantitative", "scale": {"domain": [0, 11.8], "nice": false}, "axis": null}},
           "layer": [
            {"data": {"values": [{"t": 5.5, "t2": 11.8}]}, "mark": {"type": "rect", "fill": "white", "stroke": "#000", "strokeWidth": 0.8}, "encoding": {"x2": {"field": "t2"}, "y": {"datum": 72}, "y2": {"datum": 225}}},
            {"data": {"values": [{"t": 5.9, "s": "BSA"}, {"t": 1.5, "s": "M"}]}, "mark": {"type": "text", "align": "left", "baseline": "middle", "fontSize": 10}, "encoding": {"y": {"datum": 125}, "text": {"field": "s"}}},
            {"data": {"name": "d1Pts"}, "mark": {"type": "point", "shape": "circle", "filled": false, "size": 14, "strokeWidth": 0.6, "color": "#3a3a3a"}, "encoding": {"y": {"field": "a", "type": "quantitative", "scale": {"type": "log", "base": 2, "domain": [0.15, 225], "nice": false}, "axis": {"values": [1, 4, 16, 64], "labelOverlap": false, "title": "APs /1 s", "labelFontSize": 9}}}}
           ]
          },
          {
           "width": 56, "height": 14,
           "data": {"name": "d1Temp"},
           "mark": {"type": "line", "color": "#000", "strokeWidth": 1},
           "encoding": {"x": {"field": "t", "type": "quantitative", "scale": {"domain": [0, 11.8], "nice": false}, "axis": {"values": [0, 4, 8], "labelOverlap": false, "title": null, "labelFontSize": 11}}, "y": {"field": "T", "type": "quantitative", "scale": {"domain": [5, 35], "nice": false}, "axis": {"values": [10, 30], "labelOverlap": false, "labelExpr": "datum.value + ' °C'", "title": null, "labelFontSize": 7}}}
          }
         ],
         "spacing": 2
        },
        {
         "vconcat": [
          {
           "width": 105, "height": 58,
           "encoding": {"x": {"field": "t", "type": "quantitative", "scale": {"domain": [26.5, 35.9], "nice": false}, "axis": null}},
           "layer": [
            {"data": {"values": [{"t": 26.5, "t2": 31.6}]}, "mark": {"type": "rect", "color": "#c4c4c4"}, "encoding": {"x2": {"field": "t2"}, "y": {"datum": 72, "axis": null}, "y2": {"datum": 225}}},
            {"data": {"values": [{"t": 31.6, "t2": 35.9}]}, "mark": {"type": "rect", "color": "#111"}, "encoding": {"x2": {"field": "t2"}, "y": {"datum": 72, "axis": null}, "y2": {"datum": 225}}},
            {"data": {"values": [{"t": 26.7, "s": "P-CTX-1"}]}, "mark": {"type": "text", "align": "left", "baseline": "middle", "fontSize": 10}, "encoding": {"y": {"datum": 125, "axis": null}, "text": {"field": "s"}}},
            {"data": {"values": [{"t": 32.8, "s": "TTX"}]}, "mark": {"type": "text", "align": "left", "baseline": "middle", "fontSize": 10, "color": "white"}, "encoding": {"y": {"datum": 125, "axis": null}, "text": {"field": "s"}}},
            {"data": {"name": "d2Pts"}, "mark": {"type": "point", "shape": "circle", "filled": false, "size": 14, "strokeWidth": 0.6, "color": "#3a3a3a"}, "encoding": {"y": {"field": "a", "type": "quantitative", "scale": {"type": "log", "base": 2, "domain": [0.15, 225], "nice": false}, "axis": null}}}
           ]
          },
          {
           "width": 105, "height": 14,
           "data": {"name": "d2Temp"},
           "mark": {"type": "line", "color": "#000", "strokeWidth": 1},
           "encoding": {"x": {"field": "t", "type": "quantitative", "scale": {"domain": [26.5, 35.9], "nice": false}, "axis": {"values": [28, 30, 32, 34], "labelOverlap": false, "labelExpr": "datum.value == 34 ? '34min' : datum.label", "title": null, "labelFontSize": 11}}, "y": {"field": "T", "type": "quantitative", "scale": {"domain": [5, 35], "nice": false}, "axis": null}}
          }
         ],
         "spacing": 2
        },
        {
         "vconcat": [
          {
           "width": 172, "height": 62,
           "encoding": {"x": {"field": "x", "type": "quantitative", "scale": {"domain": [0, 172], "nice": false}, "axis": {"values": [33, 78, 126], "labels": false, "title": null, "tickSize": 4}}},
           "layer": [
            {"data": {"values": [{"x": 0, "x2": 172}]}, "mark": {"type": "rect", "color": "#d6d6d6"}, "encoding": {"x2": {"field": "x2"}, "y": {"datum": 0.036, "type": "quantitative", "scale": {"type": "log", "base": 2, "domain": [0.036, 142], "nice": false}, "axis": {"values": [0.25, 1, 4, 16, 64], "labelOverlap": false, "labelExpr": "datum.value < 1 ? '0.25' : datum.label", "title": "APs /1 s"}}, "y2": {"datum": 142}}},
            {"data": {"name": "drMarks"}, "mark": {"type": "rule", "color": "#555", "strokeWidth": 0.8}, "encoding": {"y": {"field": "a", "type": "quantitative"}, "y2": {"datum": 0.036}}},
            {"data": {"name": "drPts"}, "mark": {"type": "point", "shape": "circle", "filled": false, "size": 14, "strokeWidth": 0.6, "color": "#3a3a3a"}, "encoding": {"y": {"field": "a", "type": "quantitative"}}},
            {"data": {"name": "drMarks"}, "mark": {"type": "point", "shape": "circle", "filled": false, "size": 14, "strokeWidth": 0.6, "color": "#3a3a3a"}, "encoding": {"y": {"field": "a", "type": "quantitative"}}}
           ]
          },
          {
           "width": 172, "height": 25,
           "encoding": {"x": {"field": "x", "type": "quantitative", "scale": {"domain": [0, 172], "nice": false}, "axis": null}},
           "layer": [
            {"data": {"values": [{"x": 0, "x2": 172}]}, "mark": {"type": "rect", "color": "#d6d6d6"}, "encoding": {"x2": {"field": "x2"}, "y": {"datum": 16, "type": "quantitative", "scale": {"domain": [16, 46], "nice": false}, "axis": {"values": [20, 30, 40], "labelOverlap": false, "title": "Temp.°C"}}, "y2": {"datum": 46}}},
            {"data": {"name": "drTemp"}, "mark": {"type": "line", "color": "#444", "strokeWidth": 1}, "encoding": {"y": {"field": "T", "type": "quantitative", "axis": {"values": [20, 30, 40], "labelOverlap": false, "title": "Temp.°C"}}}},
            {"data": {"name": "drMarks"}, "mark": {"type": "rule", "color": "#555", "strokeWidth": 0.8}, "encoding": {"y": {"datum": 46}, "y2": {"datum": 24}}},
            {"data": {"name": "drMarks"}, "mark": {"type": "text", "baseline": "bottom", "fontSize": 11}, "encoding": {"x": {"field": "lx", "type": "quantitative", "axis": null}, "y": {"datum": 16}, "text": {"field": "lab"}}}
           ]
          }
         ],
         "spacing": 0
        }
       ],
       "spacing": 4
      }
     ],
     "spacing": 2
    },
    {
     "vconcat": [
      {
       "title": {"text": "E", "offset": -10},
       "width": 102, "height": 107,
       "data": {"name": "eBars"},
       "encoding": {"x": {"field": "g", "type": "nominal", "sort": null, "scale": {"domain": ["wt", "TRPA1–/–"], "paddingInner": 0.35, "paddingOuter": 0.3}, "axis": {"labelAngle": 0, "ticks": false, "title": null, "labelFontSize": 11, "labelPadding": 4}}},
       "layer": [
        {"mark": {"type": "rule", "strokeWidth": 1.2, "color": "#555"}, "encoding": {"y": {"field": "v", "type": "quantitative", "scale": {"domain": [0, 240]}, "axis": {"values": [0,40,80,120,160,200,240], "labelOverlap": false, "title": "AP per cold stim."}}, "y2": {"field": "hi"}}},
        {"mark": {"type": "tick", "orient": "horizontal", "size": 8, "thickness": 1.2, "color": "#555"}, "encoding": {"y": {"field": "hi", "type": "quantitative", "axis": {"values": [0,40,80,120,160,200,240], "labelOverlap": false, "title": "AP per cold stim."}}}},
        {"mark": {"type": "bar", "stroke": "#000", "strokeWidth": 0.8}, "encoding": {"y": {"field": "v", "type": "quantitative", "axis": {"values": [0,40,80,120,160,200,240], "labelOverlap": false, "title": "AP per cold stim."}}, "fill": {"condition": {"test": "datum.g == 'wt'", "value": "#ffffff"}, "value": "#000000"}}}
       ]
      },
      {
       "title": {"text": "F", "offset": -4},
       "width": 102, "height": 106,
       "data": {"name": "fBars"},
       "encoding": {"x": {"field": "g", "type": "nominal", "sort": null, "scale": {"domain": ["Control", "TTX", "HC", "TTX+ HC", "TRPA1–/– +TTX"], "paddingInner": 0.12, "paddingOuter": 0.06}, "axis": {"labels": false, "ticks": false, "title": null}}},
       "layer": [
        {"mark": {"type": "rule", "strokeWidth": 1.2, "color": "#000"}, "encoding": {"y": {"field": "v", "type": "quantitative", "scale": {"domain": [0, 90]}, "axis": {"values": [0,10,20,30,40,50,60,70,80,90], "labelOverlap": false, "title": "No. of flinches/5 min"}}, "y2": {"field": "hi"}}},
        {"mark": {"type": "tick", "orient": "horizontal", "size": 8, "thickness": 1.2, "color": "#000"}, "encoding": {"y": {"field": "hi", "type": "quantitative", "axis": {"values": [0,10,20,30,40,50,60,70,80,90], "labelOverlap": false, "title": "No. of flinches/5 min"}}}},
        {"mark": {"type": "bar", "stroke": "#000", "strokeWidth": 0.8}, "encoding": {"y": {"field": "v", "type": "quantitative", "axis": {"values": [0,10,20,30,40,50,60,70,80,90], "labelOverlap": false, "title": "No. of flinches/5 min"}}, "fill": {"condition": {"test": "datum.g == 'TTX' || datum.g == 'TRPA1–/– +TTX'", "value": "#000000"}, "value": "#ffffff"}}},
        {"transform": [{"filter": "datum.v > 20"}], "mark": {"type": "text", "angle": 270, "align": "left", "baseline": "middle", "fontSize": 11, "dx": 3}, "encoding": {"y": {"datum": 0, "axis": {"values": [0,10,20,30,40,50,60,70,80,90], "labelOverlap": false, "title": "No. of flinches/5 min"}}, "text": {"field": "g"}, "color": {"condition": {"test": "datum.g == 'TTX'", "value": "white"}, "value": "black"}}},
        {"transform": [{"filter": "datum.v <= 20"}], "mark": {"type": "text", "angle": 270, "align": "left", "baseline": "middle", "fontSize": 11, "dx": 3}, "encoding": {"y": {"field": "hi", "type": "quantitative", "axis": {"values": [0,10,20,30,40,50,60,70,80,90], "labelOverlap": false, "title": "No. of flinches/5 min"}}, "text": {"field": "g"}}},
        {"transform": [{"filter": "datum.sig"}], "mark": {"type": "text", "fontSize": 12, "baseline": "middle"}, "encoding": {"y": {"datum": 85, "axis": {"values": [0,10,20,30,40,50,60,70,80,90], "labelOverlap": false, "title": "No. of flinches/5 min"}}, "text": {"value": "*"}}}
       ]
      }
     ],
     "spacing": 6
    }
   ],
   "spacing": 6
  },
  {
   "hconcat": [
    {
     "vconcat": [
      {
       "title": {"text": "G", "offset": -12},
       "width": 102, "height": 30,
       "layer": [
        {"data": {"name": "gLv"}, "mark": {"type": "rule", "color": "#555", "strokeWidth": 0.8}, "encoding": {"x": {"datum": 0, "type": "quantitative", "scale": {"domain": [-4, 100], "nice": false}, "axis": null}, "x2": {"datum": 100}, "y": {"field": "l", "type": "quantitative", "scale": {"domain": [-92, 32], "nice": false}, "axis": null}}},
        {"data": {"values": [{"l": -90}]}, "mark": {"type": "rule", "color": "#000", "strokeWidth": 1}, "encoding": {"x": {"datum": -4, "type": "quantitative", "axis": null}, "x2": {"datum": 0}, "y": {"field": "l", "type": "quantitative", "axis": null}}},
        {"data": {"values": [{"l": -90, "l2": 30}]}, "mark": {"type": "rule", "color": "#000", "strokeWidth": 1}, "encoding": {"x": {"datum": 0, "type": "quantitative", "axis": null}, "y": {"field": "l", "type": "quantitative", "axis": null}, "y2": {"field": "l2"}}},
        {"data": {"values": [{"l": 30, "s": "+30 mV"}]}, "mark": {"type": "text", "align": "left", "baseline": "bottom", "fontSize": 11, "dy": -2}, "encoding": {"x": {"datum": 0, "type": "quantitative", "axis": null}, "y": {"field": "l", "type": "quantitative", "axis": null}, "text": {"field": "s"}}},
        {"data": {"values": [{"l": -90, "s": "–90 mV"}]}, "mark": {"type": "text", "align": "right", "baseline": "bottom", "fontSize": 11, "dx": -1, "dy": 1}, "encoding": {"x": {"datum": -4, "type": "quantitative", "axis": null}, "y": {"field": "l", "type": "quantitative", "axis": null}, "text": {"field": "s"}}}
       ]
      },
      {
       "vconcat": [
        {
         "width": 102, "height": 52,
         "encoding": {"x": {"field": "t", "type": "quantitative", "scale": {"domain": [-4, 100], "nice": false}, "axis": null}},
         "layer": [
          {"data": {"name": "gPre"}, "mark": {"type": "line", "color": "#000", "strokeWidth": 0.7}, "encoding": {"y": {"field": "i", "type": "quantitative", "scale": {"domain": [-1.0, 0.15], "nice": false}, "axis": null}, "detail": {"field": "k"}}},
          {"data": {"values": [{"t": 3, "t2": 100}]}, "mark": {"type": "rule", "color": "#000", "strokeWidth": 3.5}, "encoding": {"x2": {"field": "t2"}, "y": {"datum": 0, "axis": null}}},
          {"data": {"values": [{"t": 100, "s": "Pre P-CTX-1"}]}, "mark": {"type": "text", "align": "right", "baseline": "middle", "fontSize": 11}, "encoding": {"y": {"datum": -0.27, "axis": null}, "text": {"field": "s"}}}
         ]
        },
        {
         "width": 102, "height": 45,
         "encoding": {"x": {"field": "t", "type": "quantitative", "scale": {"domain": [-4, 100], "nice": false}, "axis": null}},
         "layer": [
          {"data": {"name": "gPost"}, "mark": {"type": "line", "color": "#000", "strokeWidth": 0.7}, "encoding": {"y": {"field": "i", "type": "quantitative", "scale": {"domain": [-0.8, 0.3], "nice": false}, "axis": null}, "detail": {"field": "k"}}},
          {"data": {"values": [{"t": 3, "t2": 100}]}, "mark": {"type": "rule", "color": "#000", "strokeWidth": 4.5}, "encoding": {"x2": {"field": "t2"}, "y": {"datum": 0, "axis": null}}},
          {"data": {"values": [{"t": 100, "s": "Post P-CTX-1"}]}, "mark": {"type": "text", "align": "right", "baseline": "middle", "fontSize": 11}, "encoding": {"y": {"datum": -0.29, "axis": null}, "text": {"field": "s"}}},
          {"data": {"values": [{"t": 89, "t2": 94}]}, "mark": {"type": "rule", "color": "#000", "strokeWidth": 1.5}, "encoding": {"x2": {"field": "t2"}, "y": {"datum": -0.8, "axis": null}}},
          {"data": {"values": [{"t": 89}]}, "mark": {"type": "rule", "color": "#000", "strokeWidth": 1.5}, "encoding": {"y": {"datum": -0.8, "axis": null}, "y2": {"datum": -0.72}}}
         ]
        }
       ],
       "spacing": 0
      }
     ],
     "spacing": 10
    },
    {
     "title": {"text": "H", "offset": -14},
     "width": 167, "height": 116,
     "encoding": {"x": {"field": "V", "type": "quantitative", "scale": {"domain": [-100, 33], "nice": false}, "axis": {"values": [-100,-90,-80,-70,-60,-50,-40,-30,-20,-10,0,10,20,30], "labelExpr": "datum.value % 20 == 0 ? datum.label : ''", "labelOverlap": false, "labelFlush": false, "title": "Voltage (mV)", "labelFontSize": 11, "titleFontSize": 11, "titlePadding": 2}}},
     "layer": [
      {"data": {"name": "hFit"}, "mark": {"type": "line", "color": "#000", "strokeWidth": 1}, "encoding": {"y": {"field": "g", "type": "quantitative", "scale": {"domain": [-0.06, 1.07], "nice": false}, "axis": {"values": [0, 0.2, 0.4, 0.6, 0.8, 1.0], "labelOverlap": false, "labelExpr": "datum.value == 0 ? '0' : format(datum.value, '.1f')", "title": "Relative conductance", "labelFontSize": 11, "titleFontSize": 12}}, "detail": {"field": "c"}}},
      {"data": {"name": "hPts"}, "transform": [{"filter": "isValid(datum.lo)"}], "mark": {"type": "rule", "color": "#000"}, "encoding": {"y": {"field": "lo", "type": "quantitative"}, "y2": {"field": "hi"}}},
      {"data": {"name": "hPts"}, "transform": [{"filter": "isValid(datum.lo)"}], "mark": {"type": "tick", "orient": "horizontal", "size": 5, "thickness": 1, "color": "#000"}, "encoding": {"y": {"field": "hi", "type": "quantitative"}}},
      {"data": {"name": "hPts"}, "transform": [{"filter": "isValid(datum.lo)"}], "mark": {"type": "tick", "orient": "horizontal", "size": 5, "thickness": 1, "color": "#000"}, "encoding": {"y": {"field": "lo", "type": "quantitative"}}},
      {"data": {"name": "hPts"}, "mark": {"type": "point", "shape": "circle", "filled": true, "size": 24, "stroke": "#000", "strokeWidth": 1, "opacity": 1}, "encoding": {"y": {"field": "g", "type": "quantitative"}, "fill": {"field": "c", "type": "nominal", "scale": {"domain": ["Pre P-CTX-1", "Post P-CTX-1"], "range": ["#ffffff", "#000000"]}, "legend": {"title": null, "orient": "none", "legendX": 2, "legendY": -14, "labelFontSize": 11, "symbolType": "circle", "symbolSize": 30, "symbolStrokeColor": "#000", "symbolStrokeWidth": 1, "rowPadding": 1, "padding": 0}}}}
     ]
    },
    {
     "vconcat": [
      {
       "title": {"text": "I", "offset": -12},
       "width": 110, "height": 30,
       "layer": [
        {"data": {"name": "iLv"}, "mark": {"type": "rule", "color": "#555", "strokeWidth": 0.8}, "encoding": {"x": {"datum": 0, "type": "quantitative", "scale": {"domain": [-3, 100], "nice": false}, "axis": null}, "x2": {"datum": 100}, "y": {"field": "l", "type": "quantitative", "scale": {"domain": [-102, 62], "nice": false}, "axis": null}}},
        {"data": {"values": [{"l": -100}]}, "mark": {"type": "rule", "color": "#000", "strokeWidth": 1}, "encoding": {"x": {"datum": -3, "type": "quantitative", "axis": null}, "x2": {"datum": 0}, "y": {"field": "l", "type": "quantitative", "axis": null}}},
        {"data": {"values": [{"l": -100, "l2": 60}]}, "mark": {"type": "rule", "color": "#000", "strokeWidth": 1}, "encoding": {"x": {"datum": 0, "type": "quantitative", "axis": null}, "y": {"field": "l", "type": "quantitative", "axis": null}, "y2": {"field": "l2"}}},
        {"data": {"values": [{"l": 60, "s": "+60 mV"}]}, "mark": {"type": "text", "align": "left", "baseline": "bottom", "fontSize": 11, "dy": -2}, "encoding": {"x": {"datum": 0, "type": "quantitative", "axis": null}, "y": {"field": "l", "type": "quantitative", "axis": null}, "text": {"field": "s"}}},
        {"data": {"values": [{"l": -100, "s": "–100 mV"}]}, "mark": {"type": "text", "align": "right", "baseline": "bottom", "fontSize": 11, "dx": -1, "dy": 1}, "encoding": {"x": {"datum": -3, "type": "quantitative", "axis": null}, "y": {"field": "l", "type": "quantitative", "axis": null}, "text": {"field": "s"}}}
       ]
      },
      {
       "vconcat": [
        {
         "width": 110, "height": 42,
         "encoding": {"x": {"field": "t", "type": "quantitative", "scale": {"domain": [-3, 100], "nice": false}, "axis": null}},
         "layer": [
          {"data": {"name": "iTr"}, "mark": {"type": "line", "color": "#000", "strokeWidth": 0.7}, "encoding": {"y": {"field": "i", "type": "quantitative", "scale": {"domain": [-1.03, 0.15], "nice": false}, "axis": null}, "detail": {"field": "k"}}},
          {"data": {"values": [{"t": 3, "t2": 100}]}, "mark": {"type": "rule", "color": "#000", "strokeWidth": 2.5}, "encoding": {"x2": {"field": "t2"}, "y": {"datum": 0, "axis": null}}},
          {"data": {"values": [{"t": 100, "s": "Pre P-CTX-1"}]}, "mark": {"type": "text", "align": "right", "baseline": "middle", "fontSize": 11}, "encoding": {"y": {"datum": -0.5, "axis": null}, "text": {"field": "s"}}}
         ]
        },
        {
         "width": 110, "height": 42,
         "encoding": {"x": {"field": "t", "type": "quantitative", "scale": {"domain": [-3, 100], "nice": false}, "axis": null}},
         "layer": [
          {"data": {"name": "iTr"}, "mark": {"type": "line", "color": "#000", "strokeWidth": 0.7}, "encoding": {"y": {"field": "i", "type": "quantitative", "scale": {"domain": [-1.03, 0.15], "nice": false}, "axis": null}, "detail": {"field": "k"}}},
          {"data": {"values": [{"t": 3, "t2": 100}]}, "mark": {"type": "rule", "color": "#000", "strokeWidth": 2.5}, "encoding": {"x2": {"field": "t2"}, "y": {"datum": 0, "axis": null}}},
          {"data": {"values": [{"t": 100, "s": "Post P-CTX-1"}]}, "mark": {"type": "text", "align": "right", "baseline": "middle", "fontSize": 11}, "encoding": {"y": {"datum": -0.28, "axis": null}, "text": {"field": "s"}}},
          {"data": {"values": [{"t": 95, "t2": 98}]}, "mark": {"type": "rule", "color": "#000", "strokeWidth": 1.5}, "encoding": {"x2": {"field": "t2"}, "y": {"datum": -1.0, "axis": null}}},
          {"data": {"values": [{"t": 98}]}, "mark": {"type": "rule", "color": "#000", "strokeWidth": 1.5}, "encoding": {"y": {"datum": -1.0, "axis": null}, "y2": {"datum": -0.6}}}
         ]
        }
       ],
       "spacing": 14
      }
     ],
     "spacing": 8
    },
    {
     "title": {"text": "J", "offset": -14},
     "width": 152, "height": 116,
     "encoding": {"x": {"field": "V", "type": "quantitative", "scale": {"domain": [-93, 62], "nice": false}, "axis": {"values": [-90,-80,-70,-60,-50,-40,-30,-20,-10,0,10,20,30,40,50,60], "labelExpr": "datum.value % 20 == 0 ? datum.label : ''", "labelOverlap": false, "labelFlush": false, "title": "Voltage (mV)", "labelFontSize": 11, "titleFontSize": 11, "titlePadding": 2}}},
     "layer": [
      {"data": {"name": "jFit"}, "mark": {"type": "line", "color": "#000", "strokeWidth": 1}, "encoding": {"y": {"field": "g", "type": "quantitative", "scale": {"domain": [-0.06, 1.07], "nice": false}, "axis": {"values": [0, 0.2, 0.4, 0.6, 0.8, 1.0], "labelOverlap": false, "labelExpr": "datum.value == 0 ? '0' : format(datum.value, '.1f')", "title": "Relative conductance", "labelFontSize": 11, "titleFontSize": 12}}, "detail": {"field": "c"}}},
      {"data": {"name": "jPts"}, "transform": [{"filter": "isValid(datum.lo)"}], "mark": {"type": "rule", "color": "#000"}, "encoding": {"y": {"field": "lo", "type": "quantitative"}, "y2": {"field": "hi"}}},
      {"data": {"name": "jPts"}, "transform": [{"filter": "isValid(datum.lo)"}], "mark": {"type": "tick", "orient": "horizontal", "size": 5, "thickness": 1, "color": "#000"}, "encoding": {"y": {"field": "hi", "type": "quantitative"}}},
      {"data": {"name": "jPts"}, "transform": [{"filter": "isValid(datum.lo)"}], "mark": {"type": "tick", "orient": "horizontal", "size": 5, "thickness": 1, "color": "#000"}, "encoding": {"y": {"field": "lo", "type": "quantitative"}}},
      {"data": {"name": "jPts"}, "mark": {"type": "point", "shape": "circle", "filled": true, "size": 24, "stroke": "#000", "strokeWidth": 1, "opacity": 1}, "encoding": {"y": {"field": "g", "type": "quantitative"}, "fill": {"field": "c", "type": "nominal", "scale": {"domain": ["Pre P-CTX-1", "Post P-CTX-1"], "range": ["#ffffff", "#000000"]}, "legend": {"title": null, "orient": "none", "legendX": 56, "legendY": -14, "labelFontSize": 11, "symbolType": "circle", "symbolSize": 30, "symbolStrokeColor": "#000", "symbolStrokeWidth": 1, "rowPadding": 1, "padding": 0}}}}
     ]
    }
   ],
   "spacing": 8,
   "resolve": {"scale": {"fill": "independent"}}
  }
 ],
 "spacing": 0
}
